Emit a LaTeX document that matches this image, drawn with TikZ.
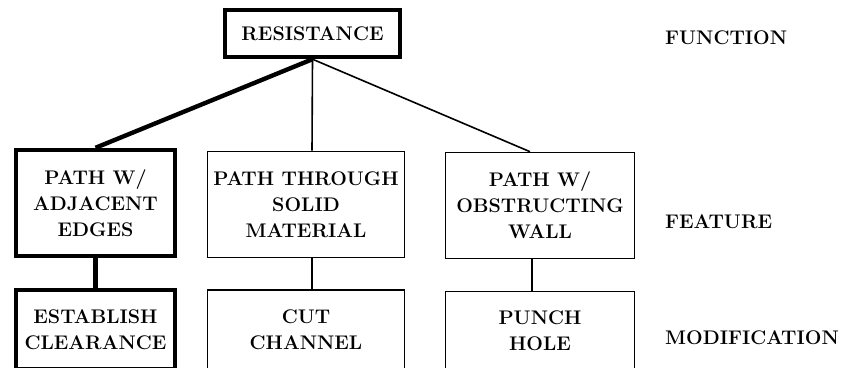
\documentclass[tikz,border=0pt]{standalone}
\usepackage{fontspec}
\setmainfont{Latin Modern Roman}
\usetikzlibrary{calc}
\begin{document}
\begin{tikzpicture}[x=1pt,y=-1pt,
  font=\fontsize{19.7}{26}\selectfont\bfseries,
  box/.style={draw, line width=1.6pt, inner sep=0pt, align=center},
  heavy/.style={line width=4.4pt},
  thin/.style={line width=1.6pt},
  lbl/.style={anchor=west, inner sep=0pt}]
\useasboundingbox (0,0) rectangle (843,367);
\clip (0,0) rectangle (843,367);
% function
\node[box, heavy, minimum width=175, minimum height=47] (res) at (312.5,33.5) {RESISTANCE};
% features
\node[box, heavy, minimum width=159, minimum height=106] (f1) at (95.5,203) {PATH W/\\ADJACENT\\EDGES};
\node[box, minimum width=197, minimum height=106] (f2) at (306,204.5) {PATH THROUGH\\SOLID\\MATERIAL};
\node[box, minimum width=189, minimum height=106] (f3) at (540,205.5) {PATH W/\\OBSTRUCTING\\WALL};
% modifications
\node[box, heavy, minimum width=159, minimum height=79] (m1) at (95.5,329.5) {ESTABLISH\\CLEARANCE};
\node[box, minimum width=197, minimum height=79] (m2) at (306,329.5) {CUT\\CHANNEL};
\node[box, minimum width=189, minimum height=79] (m3) at (540,331) {PUNCH\\HOLE};
% connectors
\draw[heavy] (res.south) -- (f1.north);
\draw[thin] (res.south) -- ($(f2.north)+(6,0)$);
\draw[thin] (res.south) -- ($(f3.north)+(-10,0)$);
\draw[heavy] (f1.south) -- (m1.north);
\draw[thin] ($(f2.south)+(6,0)$) -- ($(m2.north)+(6,0)$);
\draw[thin] ($(f3.south)+(-8,0)$) -- ($(m3.north)+(-8,0)$);
% level labels
\node[lbl] (lf) at (665,38) {FUNCTION};
\node[lbl] (lt) at (665,222) {FEATURE};
\node[lbl] (lm) at (665,338) {MODIFICATION};
\end{tikzpicture}
\end{document}
